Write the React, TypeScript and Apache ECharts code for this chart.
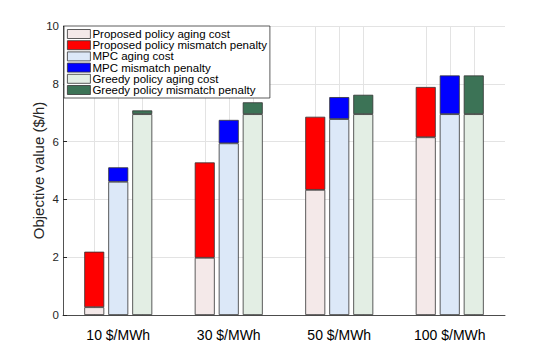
import React, { useEffect, useRef } from "react";
import * as echarts from "echarts";

const categories = ["10 $/MWh", "30 $/MWh", "50 $/MWh", "100 $/MWh"];
const propAging = [0.27, 1.98, 4.33, 6.15];
const propPenalty = [1.92, 3.3, 2.53, 1.74];
const mpcAging = [4.61, 5.94, 6.78, 6.95];
const mpcPenalty = [0.5, 0.81, 0.76, 1.34];
const greedyAging = [6.95, 6.95, 6.95, 6.95];
const greedyPenalty = [0.13, 0.41, 0.67, 1.34];
const yTicks = { min: 0, max: 10, interval: 2 };

const W = 538;
const H = 354;
const GRID = { left: 63, right: 33, top: 26, bottom: 39 };
const BAR_W = 20;
const BAR_GAP = 4;
const FONT = "Liberation Sans, Arial, Helvetica, sans-serif";
const EDGE = "#333333";
const GRID_COLOR = "#e3e3e3";

export default function App() {
  const ref = useRef<HTMLDivElement>(null);
  useEffect(() => {
    if (!ref.current) return;
    const chart = echarts.init(ref.current, null, { renderer: "svg" });
    const bar = (name: string, data: number[], stack: string, color: string) => ({
      name,
      type: "bar",
      stack,
      data,
      barWidth: BAR_W,
      barGap: `${(BAR_GAP / BAR_W) * 100}%`,
      z: 3,
      itemStyle: { color, borderColor: EDGE, borderWidth: 0.8 },
    });
    chart.setOption({
      animation: false,
      textStyle: { fontFamily: FONT },
      grid: { ...GRID },
      legend: {
        orient: "vertical",
        left: 64,
        top: 26,
        padding: [2, 3, 2, 3],
        itemWidth: 23,
        itemHeight: 9,
        itemGap: -0.8,
        icon: "rect",
        backgroundColor: "#ffffff",
        borderColor: EDGE,
        borderWidth: 0.8,
        textStyle: { fontSize: 11.5, lineHeight: 11, color: "#000", padding: [0, 0, 0, -3], fontFamily: FONT },
        itemStyle: { borderColor: EDGE, borderWidth: 0.8 },
        z: 10,
      },
      xAxis: {
        type: "category",
        data: categories,
        axisLine: { show: true, lineStyle: { color: "#262626", width: 0.8 } },
        axisTick: { show: false },
        axisLabel: { fontSize: 14, color: "#000", margin: 13, fontFamily: FONT },
        splitLine: { show: false },
      },
      yAxis: {
        type: "value",
        ...yTicks,
        name: "Objective value ($/h)",
        nameLocation: "middle",
        nameGap: 17,
        nameMoveOverlap: false,
        nameTextStyle: { fontSize: 15, color: "#262626", fontFamily: FONT },
        axisLine: { show: true, lineStyle: { color: "#262626", width: 0.8 } },
        axisTick: { show: true, inside: true, length: 4, lineStyle: { color: "#262626" } },
        axisLabel: { fontSize: 11.5, color: "#262626", margin: 4, fontFamily: FONT },
        splitLine: { show: true, lineStyle: { color: GRID_COLOR, width: 1 } },
      },
      series: [
        bar("Proposed policy aging cost", propAging, "p", "#f4e9e9"),
        bar("Proposed policy mismatch penalty", propPenalty, "p", "#ff0000"),
        bar("MPC aging cost", mpcAging, "m", "#dce8f8"),
        bar("MPC mismatch penalty", mpcPenalty, "m", "#0000ff"),
        bar("Greedy policy aging cost", greedyAging, "g", "#e3eee4"),
        bar("Greedy policy mismatch penalty", greedyPenalty, "g", "#3c7356"),
      ],
    });
    // vertical grid lines at each bar's centre, located through the axis scales
    const yTop = chart.convertToPixel({ yAxisIndex: 0 }, yTicks.max) as number;
    const yBot = chart.convertToPixel({ yAxisIndex: 0 }, yTicks.min) as number;
    const step = BAR_W + BAR_GAP;
    const elements: any[] = [];
    categories.forEach((_, i) => {
      const cx = chart.convertToPixel({ xAxisIndex: 0 }, i) as number;
      [-step, 0, step].forEach((d) => {
        const x = Math.round(cx + d) + 0.5;
        elements.push({
          type: "line",
          silent: true,
          z: 1,
          shape: { x1: x, y1: yTop, x2: x, y2: yBot },
          style: { stroke: GRID_COLOR, lineWidth: 1 },
        });
      });
    });
    chart.setOption({ graphic: { elements } });
    return () => chart.dispose();
  }, []);
  return (
    <div
      ref={ref}
      style={{ position: "fixed", left: 0, top: 0, width: W, height: H, background: "#fff" }}
    />
  );
}
